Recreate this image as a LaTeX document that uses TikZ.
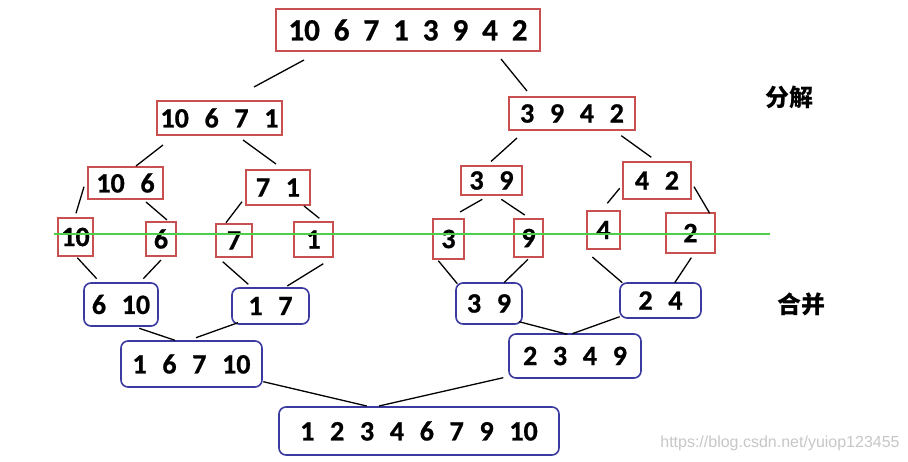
\documentclass[tikz,border=0pt]{standalone}
\usepackage{fontspec}
\setmainfont{Carlito}[BoldFeatures={FakeBold=0.8}]
\newfontfamily\cjk{Noto Sans CJK SC}
\newfontfamily\wmfont{Liberation Sans}
\newcommand\numgap{\hskip0.56em\relax}
\newcommand\topgap{\hskip0.45em\relax}
\definecolor{boxred}{HTML}{C85050}
\definecolor{boxblue}{HTML}{3A3AA0}
\definecolor{lineGreen}{HTML}{4CD04C}
\begin{document}
\begin{tikzpicture}[x=1pt,y=-1pt,
  redbox/.style={draw=boxred,line width=1.6pt,inner sep=0pt,align=center,
    font=\fontsize{28}{30}\selectfont\bfseries},
  bluebox/.style={draw=boxblue,line width=1.6pt,inner sep=0pt,rounded corners=7pt,
    align=center,font=\fontsize{28}{30}\selectfont\bfseries},
  conn/.style={line width=1.3pt,black},
  lbl/.style={font=\fontsize{24}{26}\selectfont\cjk\bfseries},
  wm/.style={font=\fontsize{16}{18}\selectfont\wmfont,text=black!22}]
\useasboundingbox[fill=white] (0,0) rectangle (908,462);
% split part
\node[redbox,minimum width=264pt,minimum height=42pt,font=\fontsize{31}{34}\selectfont\bfseries] (top) at (408,30)
  {10\topgap 6\topgap 7\topgap 1\topgap 3\topgap 9\topgap 4\topgap 2};
\node[redbox,minimum width=125pt,minimum height=34pt] (n10671) at (219.5,118) {10\numgap 6\numgap 7\numgap 1};
\node[redbox,minimum width=126pt,minimum height=33pt] (n3942) at (572,113.5) {3\numgap 9\numgap 4\numgap 2};
\node[redbox,minimum width=75pt,minimum height=32pt] (n106) at (125.5,183) {10\numgap 6};
\node[redbox,minimum width=64pt,minimum height=35pt] (n71) at (278,187.5) {7\numgap 1};
\node[redbox,minimum width=61pt,minimum height=29pt] (n39) at (491.5,180.5) {3\numgap 9};
\node[redbox,minimum width=68pt,minimum height=37pt] (n42) at (657,180.5) {4\numgap 2};
\node[redbox,minimum width=35pt,minimum height=38pt] (l10) at (75.5,237) {10};
\node[redbox,minimum width=30pt,minimum height=34pt] (l6) at (161,239) {6};
\node[redbox,minimum width=36pt,minimum height=33pt] (l7) at (234,240.5) {7};
\node[redbox,minimum width=39pt,minimum height=35pt] (l1) at (313.5,239.5) {1};
\node[redbox,minimum width=31pt,minimum height=40pt] (l3) at (448.5,239) {3};
\node[redbox,minimum width=29pt,minimum height=38pt] (l9) at (528.5,238) {9};
\node[redbox,minimum width=33pt,minimum height=38pt] (l4) at (603.5,230) {4};
\node[redbox,minimum width=49pt,minimum height=40pt] (l2) at (690.5,233) {2};
% merge part
\node[bluebox,minimum width=74pt,minimum height=43pt] (m610) at (121,304.5) {6\numgap 10};
\node[bluebox,minimum width=77pt,minimum height=36pt] (m17) at (270.5,306) {1\numgap 7};
\node[bluebox,minimum width=66pt,minimum height=41pt] (m39) at (489,303.5) {3\numgap 9};
\node[bluebox,minimum width=81pt,minimum height=35pt] (m24) at (660.5,300.5) {2\numgap 4};
\node[bluebox,minimum width=141pt,minimum height=46pt] (m16710) at (191.5,364) {1\numgap 6\numgap 7\numgap 10};
\node[bluebox,minimum width=132pt,minimum height=44pt] (m2349) at (575,356) {2\numgap 3\numgap 4\numgap 9};
\node[bluebox,minimum width=280pt,minimum height=48pt] (bot) at (419,431)
  {1\numgap 2\numgap 3\numgap 4\numgap 6\numgap 7\numgap 9\numgap 10};
% green line
\coordinate (gA) at (54,234);
\coordinate (gB) at (770,234);
\draw[lineGreen,line width=1.3pt] (gA) -- (gB);
% connectors (split)
\draw[conn] ([shift={(-104,30)}]top.center) -- ([shift={(34.5,-31)}]n10671.center);
\draw[conn] ([shift={(93,29)}]top.center) -- ([shift={(-45,-22.5)}]n3942.center);
\draw[conn] ([shift={(-56.5,27)}]n10671.center) -- ([shift={(10.5,-17)}]n106.center);
\draw[conn] ([shift={(23.5,22)}]n10671.center) -- ([shift={(-2,-23.5)}]n71.center);
\draw[conn] ([shift={(-55,24.5)}]n3942.center) -- ([shift={(-0.5,-19)}]n39.center);
\draw[conn] ([shift={(49.3,22.2)}]n3942.center) -- ([shift={(-5.7,-23.2)}]n42.center);
\draw[conn] ([shift={(-41.5,3.7)}]n106.center) -- ([shift={(0.5,-23.7)}]l10.center);
\draw[conn] ([shift={(20.5,19)}]n106.center) -- ([shift={(6,-19)}]l6.center);
\draw[conn] ([shift={(-36,14.2)}]n71.center) -- ([shift={(-8,-17.8)}]l7.center);
\draw[conn] ([shift={(26,18.5)}]n71.center) -- ([shift={(5.8,-21.2)}]l1.center);
\draw[conn] ([shift={(-9.2,18.8)}]n39.center) -- ([shift={(11.5,-27)}]l3.center);
\draw[conn] ([shift={(9.8,18.8)}]n39.center) -- ([shift={(-3.8,-23)}]l9.center);
\draw[conn] ([shift={(-37.3,7.8)}]n42.center) -- ([shift={(3.8,-26.7)}]l4.center);
\draw[conn] ([shift={(37,6.2)}]n42.center) -- ([shift={(19.2,-19.7)}]l2.center);
% connectors (merge)
\draw[conn] ([shift={(1.8,20.7)}]l10.center) -- ([shift={(-24.3,-25.8)}]m610.center);
\draw[conn] ([shift={(0,21)}]l6.center) -- ([shift={(22.3,-25.8)}]m610.center);
\draw[conn] ([shift={(-11.3,21.2)}]l7.center) -- ([shift={(-22.2,-21.7)}]m17.center);
\draw[conn] ([shift={(9.8,24.2)}]l1.center) -- ([shift={(16.8,-20)}]m17.center);
\draw[conn] ([shift={(-10.2,21.7)}]l3.center) -- ([shift={(-31.7,-19.8)}]m39.center);
\draw[conn] ([shift={(-0.5,21.3)}]l9.center) -- ([shift={(15,-20.8)}]m39.center);
\draw[conn] ([shift={(-11.2,27)}]l4.center) -- ([shift={(-38.2,-17.8)}]m24.center);
\draw[conn] ([shift={(0.8,24.7)}]l2.center) -- ([shift={(14.2,-17.8)}]m24.center);
\draw[conn] ([shift={(18.3,23.8)}]m610.center) -- ([shift={(-16.5,-23.7)}]m16710.center);
\draw[conn] ([shift={(-32.5,16.7)}]m17.center) -- ([shift={(4.5,-26.3)}]m16710.center);
\draw[conn] ([shift={(30,18.2)}]m39.center) -- ([shift={(-7.7,-21.7)}]m2349.center);
\draw[conn] ([shift={(-40.8,16.2)}]m24.center) -- ([shift={(-2.7,-22.3)}]m2349.center);
\draw[conn] ([shift={(71.8,17.7)}]m16710.center) -- ([shift={(-52.3,-25)}]bot.center);
\draw[conn] ([shift={(-71.7,21.7)}]m2349.center) -- ([shift={(-40,-25)}]bot.center);
% labels
\node[lbl] (split) at (789,97) {分解};
\node[lbl] (merge) at (801,304) {合并};
\node[wm] (mark) at (780,443) {https://blog.csdn.net/yuiop123455};
\end{tikzpicture}
\end{document}
